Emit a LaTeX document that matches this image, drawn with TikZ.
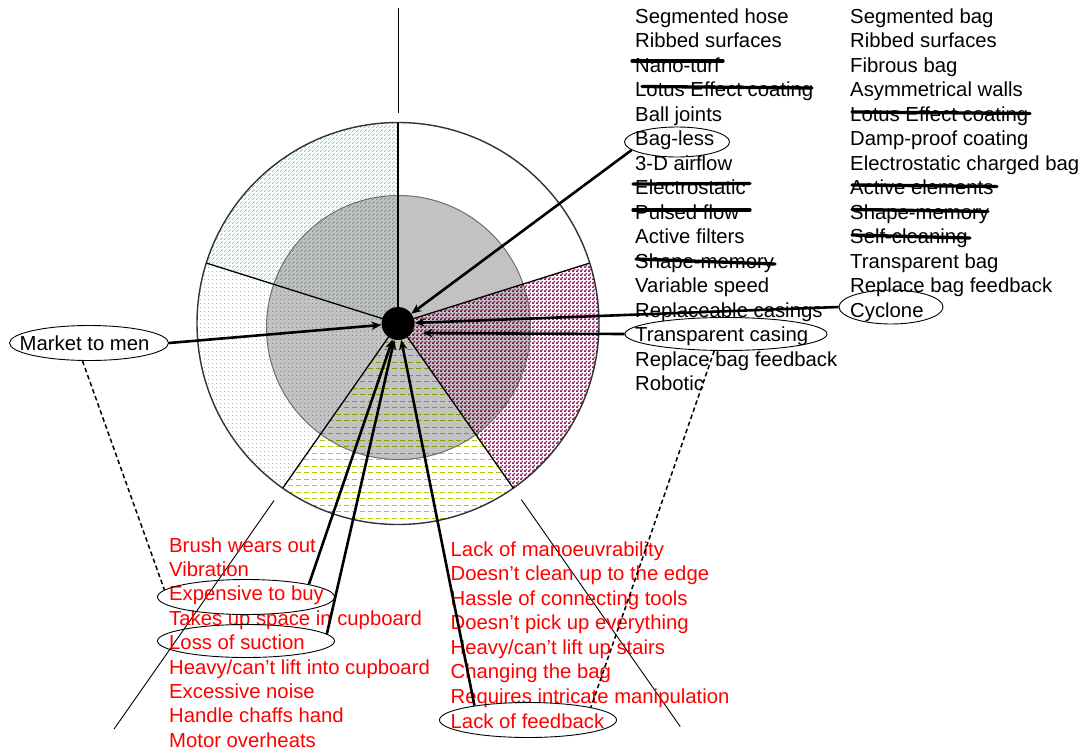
\documentclass[tikz,border=0pt]{standalone}
\usepackage{fontspec}
\setmainfont{Liberation Sans}
\usetikzlibrary{patterns,arrows.meta,shapes.geometric}

\pgfdeclarepatternformonly{cyanhatch}{\pgfqpoint{-0.5pt}{-0.5pt}}{\pgfqpoint{4.5pt}{4.5pt}}{\pgfqpoint{4pt}{4pt}}{%
  \pgfsetlinewidth{0.7pt}%
  \pgfpathmoveto{\pgfqpoint{0pt}{0pt}}%
  \pgfpathlineto{\pgfqpoint{2.6pt}{2.6pt}}%
  \pgfusepath{stroke}}
\pgfdeclarepatternformonly{bluedots}{\pgfqpoint{0pt}{0pt}}{\pgfqpoint{4pt}{4pt}}{\pgfqpoint{4pt}{4pt}}{%
  \pgfpathrectangle{\pgfqpoint{0pt}{0pt}}{\pgfqpoint{0.9pt}{0.9pt}}%
  \pgfusepath{fill}}
\pgfdeclarepatternformonly{greendash}{\pgfqpoint{0pt}{-0.6pt}}{\pgfqpoint{8pt}{0.6pt}}{\pgfqpoint{8pt}{6.5pt}}{%
  \pgfsetlinewidth{0.9pt}%
  \pgfpathmoveto{\pgfqpoint{0pt}{0pt}}%
  \pgfpathlineto{\pgfqpoint{5pt}{0pt}}%
  \pgfusepath{stroke}}
\pgfdeclarepatternformonly{maroondots}{\pgfqpoint{0pt}{0pt}}{\pgfqpoint{4pt}{4pt}}{\pgfqpoint{4pt}{4pt}}{%
  \pgfpathrectangle{\pgfqpoint{0pt}{0pt}}{\pgfqpoint{2.3pt}{1.9pt}}%
  \pgfpathrectangle{\pgfqpoint{2pt}{2pt}}{\pgfqpoint{1.95pt}{1.9pt}}%
  \pgfusepath{fill}}

\definecolor{hcyan}{RGB}{80,195,200}
\definecolor{hblue}{RGB}{60,60,230}
\definecolor{hgreen}{RGB}{165,210,0}
\definecolor{hmaroon}{RGB}{160,25,100}
\definecolor{rimgray}{RGB}{50,50,50}
\definecolor{innergray}{RGB}{110,110,110}

\begin{document}
\begin{tikzpicture}[x=1pt,y=1pt,
  font=\fontsize{20.3}{24}\selectfont,
  txt/.style={anchor=base west, inner sep=0pt},
  rtxt/.style={txt, text=red},
  oval/.style={ellipse, draw, line width=0.9pt, inner sep=0pt},
  arr/.style={line width=2.6pt, -{Stealth[length=10pt,width=8.5pt]}},
  strike/.style={line width=3.3pt, line cap=round},
  dline/.style={line width=1.5pt, dash pattern=on 4.5pt off 3pt},
  thinline/.style={line width=0.9pt}]
\useasboundingbox (0,0) rectangle (1083,-752);

\coordinate (C) at (398,-323.5);

% sectors
\path[pattern=cyanhatch, pattern color=hcyan] (C) -- ++(90:201) arc[start angle=90, end angle=162.5, radius=201] -- cycle;
\path[pattern=bluedots, pattern color=hblue] (C) -- ++(162.5:201) arc[start angle=162.5, end angle=235, radius=201] -- cycle;
\path[pattern=greendash, pattern color=hgreen] (C) -- ++(235:201) arc[start angle=235, end angle=305, radius=201] -- cycle;
\path[pattern=maroondots, pattern color=hmaroon] (C) -- ++(305:201) arc[start angle=305, end angle=377.5, radius=201] -- cycle;

% inner circle
\fill[black, fill opacity=0.24] (398.5,-327.5) circle[radius=132];
\draw[innergray, line width=1pt] (398.5,-327.5) circle[radius=132];

% outer circle and dividers
\draw[rimgray, line width=1.4pt] (C) circle[radius=201];
\foreach \a in {17.5,90,162.5,235,305}
  \draw[line width=1.3pt] (C) -- ++(\a:201);

% extension lines
\draw[thinline] (398,-8) -- (398,-113);
\draw[thinline] ([shift={(235:216)}]C) -- ([shift={(235:495)}]C);
\draw[thinline] ([shift={(305:215)}]C) -- ([shift={(305:492)}]C);

% hub
\node[circle, fill=black, minimum size=33pt, inner sep=0pt] (hub) at (C) {};

% right column 1
\foreach \t [count=\i] in {Segmented hose, Ribbed surfaces, Nano-turf, Lotus Effect coating, Ball joints, Bag-less, 3-D airflow, Electrostatic, Pulsed flow, Active filters, Shape-memory, Variable speed, Replaceable casings, Transparent casing, Replace bag feedback, Robotic}
  \node[txt] (a\i) at (635,{-23.5-24.47*(\i-1)}) {\t};

% right column 2
\foreach \t [count=\i] in {Segmented bag, Ribbed surfaces, Fibrous bag, Asymmetrical walls, Lotus Effect coating, Damp-proof coating, Electrostatic charged bag, Active elements, Shape-memory, Self-cleaning, Transparent bag, Replace bag feedback, Cyclone}
  \node[txt] (b\i) at (850,{-23.5-24.47*(\i-1)}) {\t};

% left market node text
\node[txt] (m1) at (19.5,-350.5) {Market to men};

% red lists
\foreach \t [count=\i] in {Brush wears out, Vibration, Expensive to buy, Takes up space in cupboard, Loss of suction, Heavy/can’t lift into cupboard, Excessive noise, Handle chaffs hand, Motor overheats}
  \node[rtxt] (l\i) at (169,{-552-24.4*(\i-1)}) {\t};
\foreach \t [count=\i] in {Lack of manoeuvrability, Doesn’t clean up to the edge, Hassle of connecting tools, Doesn’t pick up everything, Heavy/can’t lift up stairs, Changing the bag, Requires intricate manipulation, Lack of feedback}
  \node[rtxt] (r\i) at (450.5,{-556-24.57*(\i-1)}) {\t};

% strike-throughs
\draw[strike] (632,-61) -- (723,-61);
\draw[strike] (642,-86.5) -- (812,-88);
\draw[strike] (633,-184) -- (750,-183.5);
\draw[strike] (633,-210) -- (750,-210);
\draw[strike] (636,-259) -- (775,-264);
\draw[strike] (852,-112) -- (1030,-113.5);
\draw[strike] (852,-185) -- (997,-186.5);
\draw[strike] (852,-209.5) -- (988,-211.5);
\draw[strike] (852,-235) -- (970,-238);

% ellipses
\node[oval, minimum width=105pt, minimum height=30pt] (bagless) at (677,-142) {};
\node[oval, minimum width=202pt, minimum height=33pt] (tcasing) at (726,-334) {};
\node[oval, minimum width=104pt, minimum height=34pt] (cyclone) at (891,-307) {};
\node[oval, minimum width=159pt, minimum height=35pt] (market) at (89,-343) {};
\node[oval, minimum width=177pt, minimum height=35pt] (expensive) at (246,-597) {};
\node[oval, minimum width=177pt, minimum height=33pt] (suction) at (246,-641) {};
\node[oval, minimum width=177pt, minimum height=35pt] (feedback) at (528,-720) {};

% arrows to hub
\draw[arr] (bagless.190) -- (hub);
\draw[arr] (cyclone.west) -- (hub);
\draw[arr, shorten >=11pt] (tcasing.west) -- (hub.-35);
\draw[arr] (market.east) -- (hub);
\draw[arr] (expensive.north east) -- (hub);
\draw[arr] (suction.5) -- (hub);
\draw[arr] (feedback.165) -- (hub);

% dashed links
\draw[dline] (market.250) -- (expensive.175);
\draw[dline] (tcasing.235) -- (feedback.north east);
\end{tikzpicture}
\end{document}
